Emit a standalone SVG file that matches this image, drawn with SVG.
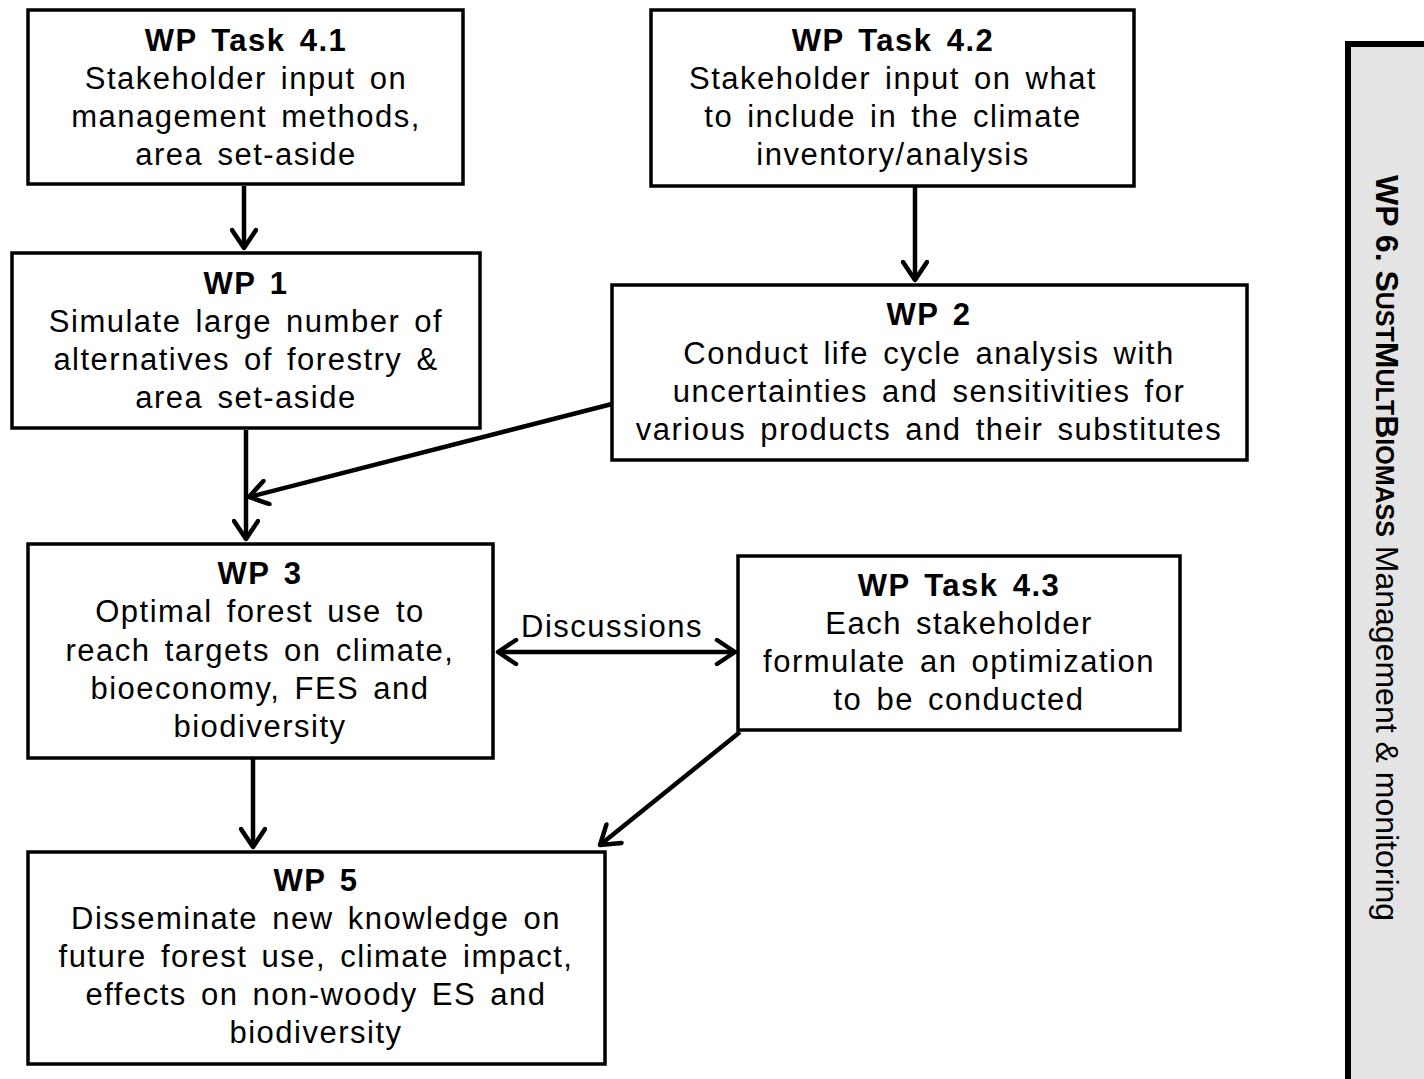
<svg xmlns="http://www.w3.org/2000/svg" width="1424" height="1079" viewBox="0 0 1424 1079">
<style>
.box{fill:#fff;stroke:#000;stroke-width:3.5}
text{font-family:"Liberation Sans",Arial,sans-serif;font-size:31px;letter-spacing:1.5px;word-spacing:4px;fill:#000;text-anchor:middle}
.t{font-weight:bold}
.c{fill:none;stroke:#000;stroke-width:4.5}
.side{fill:#e4e4e4;stroke:#000;stroke-width:6}
.sidet{text-anchor:start;font-size:32px;letter-spacing:0;word-spacing:0}
</style>
<defs>
<marker id="ah" markerUnits="userSpaceOnUse" viewBox="-22 -14 26 28" markerWidth="26" markerHeight="28" refX="0" refY="0" orient="auto-start-reverse">
<path d="M-18,-12 L0,0 L-18,12" fill="none" stroke="#000" stroke-width="4.5" stroke-linecap="round" stroke-linejoin="round"/>
</marker>
</defs>
<g id="sidebar">
<rect class="side" x="1348" y="44" width="100" height="1060"/>
<text class="sidet" transform="translate(1376,175) rotate(90)"><tspan font-weight="bold">WP 6. S<tspan font-size="25">UST</tspan>M<tspan font-size="25">ULT</tspan>B<tspan font-size="25">IOMASS</tspan></tspan> Management &amp; monitoring</text>
</g>
<g id="task41">
<rect class="box" x="28" y="10" width="435" height="174"/>
<text class="t" x="246" y="51">WP Task 4.1</text>
<text><tspan x="246" y="89">Stakeholder input on</tspan><tspan x="246" y="127">management methods,</tspan><tspan x="246" y="165">area set-aside</tspan></text>
</g>
<g id="task42">
<rect class="box" x="651" y="10" width="483" height="176"/>
<text class="t" x="893" y="51">WP Task 4.2</text>
<text><tspan x="893" y="89">Stakeholder input on what</tspan><tspan x="893" y="127">to include in the climate</tspan><tspan x="893" y="165">inventory/analysis</tspan></text>
</g>
<g id="wp1">
<rect class="box" x="12" y="253" width="468" height="175"/>
<text class="t" x="246" y="294">WP 1</text>
<text><tspan x="246" y="332">Simulate large number of</tspan><tspan x="246" y="370">alternatives of forestry &amp;</tspan><tspan x="246" y="408">area set-aside</tspan></text>
</g>
<g id="wp2">
<rect class="box" x="612" y="285" width="635" height="175"/>
<text class="t" x="929" y="325">WP 2</text>
<text><tspan x="929" y="364">Conduct life cycle analysis with</tspan><tspan x="929" y="402">uncertainties and sensitivities for</tspan><tspan x="929" y="440">various products and their substitutes</tspan></text>
</g>
<g id="wp3">
<rect class="box" x="28" y="544" width="465" height="214"/>
<text class="t" x="260" y="584">WP 3</text>
<text><tspan x="260" y="622">Optimal forest use to</tspan><tspan x="260" y="661">reach targets on climate,</tspan><tspan x="260" y="699">bioeconomy, FES and</tspan><tspan x="260" y="737">biodiversity</tspan></text>
</g>
<g id="task43">
<rect class="box" x="738" y="556" width="442" height="174"/>
<text class="t" x="959" y="596">WP Task 4.3</text>
<text><tspan x="959" y="634">Each stakeholder</tspan><tspan x="959" y="672">formulate an optimization</tspan><tspan x="959" y="710">to be conducted</tspan></text>
</g>
<g id="wp5">
<rect class="box" x="28" y="852" width="577" height="212"/>
<text class="t" x="316" y="891">WP 5</text>
<text><tspan x="316" y="929">Disseminate new knowledge on</tspan><tspan x="316" y="967">future forest use, climate impact,</tspan><tspan x="316" y="1005">effects on non-woody ES and</tspan><tspan x="316" y="1043">biodiversity</tspan></text>
</g>
<g id="connectors">
<line class="c" x1="244" y1="186" x2="244" y2="248" marker-end="url(#ah)"/>
<line class="c" x1="915" y1="187" x2="915" y2="280" marker-end="url(#ah)"/>
<line class="c" x1="246" y1="430" x2="246" y2="539" marker-end="url(#ah)"/>
<line class="c" x1="612" y1="404" x2="249" y2="497" marker-end="url(#ah)"/>
<line class="c" x1="253" y1="759" x2="253" y2="847" marker-end="url(#ah)"/>
<line class="c" x1="740" y1="732" x2="600" y2="845" marker-end="url(#ah)"/>
<line class="c" x1="498" y1="652" x2="735" y2="652" marker-start="url(#ah)" marker-end="url(#ah)"/>
<text x="612" y="637">Discussions</text>
</g>
</svg>
